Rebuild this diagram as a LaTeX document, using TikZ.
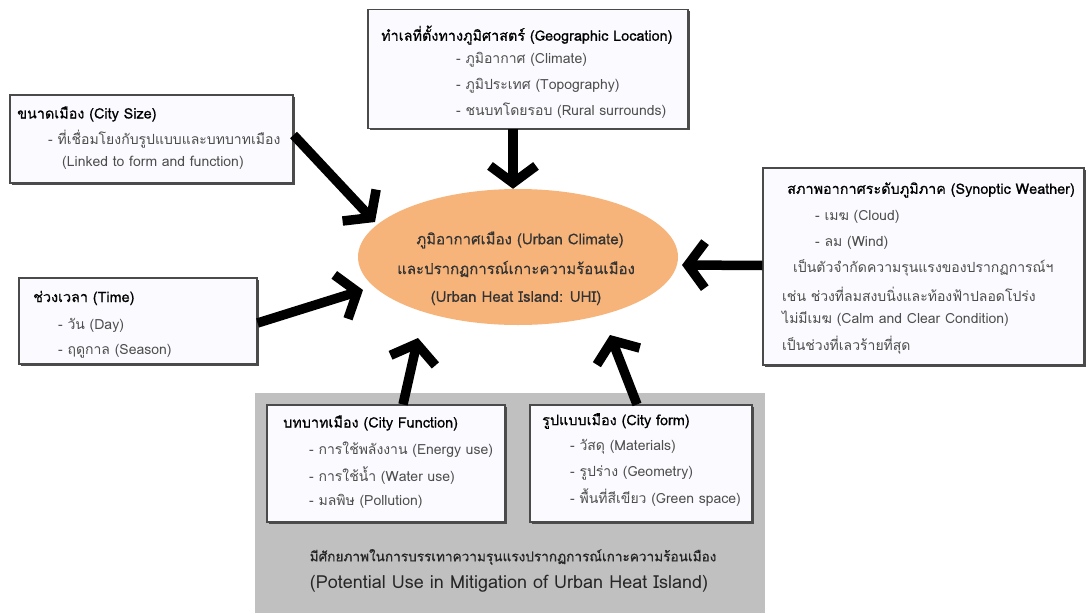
\documentclass[tikz,border=0pt]{standalone}
\usepackage{fontspec}
\setmainfont[Script=Thai]{Loma}
\newfontfamily\ttlfont[Script=Thai,FakeBold=0.7]{Loma}
\newfontfamily\medfont[Script=Thai,FakeBold=0.35]{Loma}
\usetikzlibrary{arrows.meta,shadows,calc,shapes.geometric}
\definecolor{uhiorange}{HTML}{F6B47A}
\definecolor{boxfill}{HTML}{FBFBFF}
\definecolor{boxline}{HTML}{4A4A4A}
\definecolor{itemtext}{HTML}{4D4D4D}
\definecolor{greyzone}{HTML}{C0C0C0}
\tikzset{
  infobox/.style={draw=boxline, line width=1.1pt, fill=boxfill, inner sep=0pt,
    drop shadow={shadow xshift=1.5pt, shadow yshift=-1.5pt, fill=black!70, opacity=1}},
  ttl/.style={anchor=west, inner sep=0pt, text=black, font=\ttlfont\fontsize{14.4}{16}\selectfont},
  itm/.style={anchor=west, inner sep=0pt, text=itemtext, font=\fontsize{14}{16}\selectfont},
  uhitext/.style={inner sep=0pt, text=black!80, font=\medfont\fontsize{15}{17}\selectfont},
  bigarrow/.style={line width=9.5pt, -{Straight Barb[length=17pt, width=46pt]}},
}
\begin{document}
\begin{tikzpicture}[x=1pt, y=-1pt]
\useasboundingbox (0,0) rectangle (1092,613);
% grey zone
\fill[greyzone] (255,393) rectangle (765,613);
% ellipse
\node[ellipse, fill=uhiorange, minimum width=320pt, minimum height=136pt, inner sep=0pt] (uhi) at (518,257) {};
\node[uhitext] (uhi1) at (520,240) {ภูมิอากาศเมือง (Urban Climate)};
\node[uhitext] (uhi2) at (516,269) {และปรากฏการณ์เกาะความร้อนเมือง};
\node[uhitext] (uhi3) at (516,298) {(Urban Heat Island: UHI)};
% boxes
\node[infobox, minimum width=320pt, minimum height=119pt] (geo) at (528,69) {};
\node[infobox, minimum width=283pt, minimum height=88pt] (size) at (151.5,139) {};
\node[infobox, minimum width=238pt, minimum height=86pt] (time) at (138,321) {};
\node[infobox, minimum width=321pt, minimum height=197pt] (syn) at (923.5,266.5) {};
\node[infobox, minimum width=238pt, minimum height=117pt] (func) at (386,463.5) {};
\node[infobox, minimum width=222pt, minimum height=117pt] (form) at (641,463.5) {};
% geo text
\node[ttl] (geot) at (381,35) {ทำเลที่ตั้งทางภูมิศาสตร์ (Geographic Location)};
\node[itm] (geo1) at (456,60) {- ภูมิอากาศ (Climate)};
\node[itm] (geo2) at (456,86) {- ภูมิประเทศ (Topography)};
\node[itm] (geo3) at (456,111) {- ชนบทโดยรอบ (Rural surrounds)};
% size text
\node[ttl] (sizet) at (17,114) {ขนาดเมือง (City Size)};
\node[itm] (size1) at (48,139) {- ที่เชื่อมโยงกับรูปแบบและบทบาทเมือง};
\node[itm] (size2) at (62,163) {(Linked to form and function)};
% time text
\node[ttl] (timet) at (33,298) {ช่วงเวลา (Time)};
\node[itm] (time1) at (58,325) {- วัน (Day)};
\node[itm] (time2) at (58,351) {- ฤดูกาล (Season)};
% synoptic text
\node[ttl] (synt) at (787,190) {สภาพอากาศระดับภูมิภาค (Synoptic Weather)};
\node[itm] (syn1) at (815,217) {- เมฆ (Cloud)};
\node[itm] (syn2) at (815,243) {- ลม (Wind)};
\node[itm] (syn3) at (793,268) {เป็นตัวจำกัดความรุนแรงของปรากฏการณ์ฯ};
\node[itm] (syn4) at (782,294) {เช่น ช่วงที่ลมสงบนิ่งและท้องฟ้าปลอดโปร่ง};
\node[itm] (syn5) at (782,319) {ไม่มีเมฆ (Calm and Clear Condition)};
\node[itm] (syn6) at (782,345) {เป็นช่วงที่เลวร้ายที่สุด};
% function text
\node[ttl] (funct) at (283,423) {บทบาทเมือง (City Function)};
\node[itm] (func1) at (309,450) {- การใช้พลังงาน (Energy use)};
\node[itm] (func2) at (309,476) {- การใช้น้ำ (Water use)};
\node[itm] (func3) at (309,501) {- มลพิษ (Pollution)};
% form text
\node[ttl] (formt) at (542,421) {รูปแบบเมือง (City form)};
\node[itm] (form1) at (570,447) {- วัสดุ (Materials)};
\node[itm] (form2) at (570,473) {- รูปร่าง (Geometry)};
\node[itm] (form3) at (570,498) {- พื้นที่สีเขียว (Green space)};
% grey zone text
\node[inner sep=0pt, text=black!85, font=\ttlfont\fontsize{13.6}{16}\selectfont] (mit1) at (513,557) {มีศักยภาพในการบรรเทาความรุนแรงปรากฏการณ์เกาะความร้อนเมือง};
\node[inner sep=0pt, text=black!85, font=\fontsize{18}{20}\selectfont] (mit2) at (509,584) {(Potential Use in Mitigation of Urban Heat Island)};
% arrows
\draw[bigarrow] ($(geo.south)+(-15,0)$) -- ($(uhi.north)+(-5,0)$);
\draw[bigarrow] ($(size.east)+(0,-4)$) -- ($(uhi.center)+(-143,-35)$);
\draw[bigarrow] ($(time.east)+(0,2)$) -- ($(uhi.center)+(-155,33)$);
\draw[bigarrow] ($(syn.west)+(0,-1)$) -- ($(uhi.center)+(164,8)$);
\draw[bigarrow] ($(func.north)+(17,0)$) -- ($(uhi.center)+(-100,81)$);
\draw[bigarrow] ($(form.north)+(-4,0)$) -- ($(uhi.center)+(92,78)$);
\end{tikzpicture}
\end{document}
